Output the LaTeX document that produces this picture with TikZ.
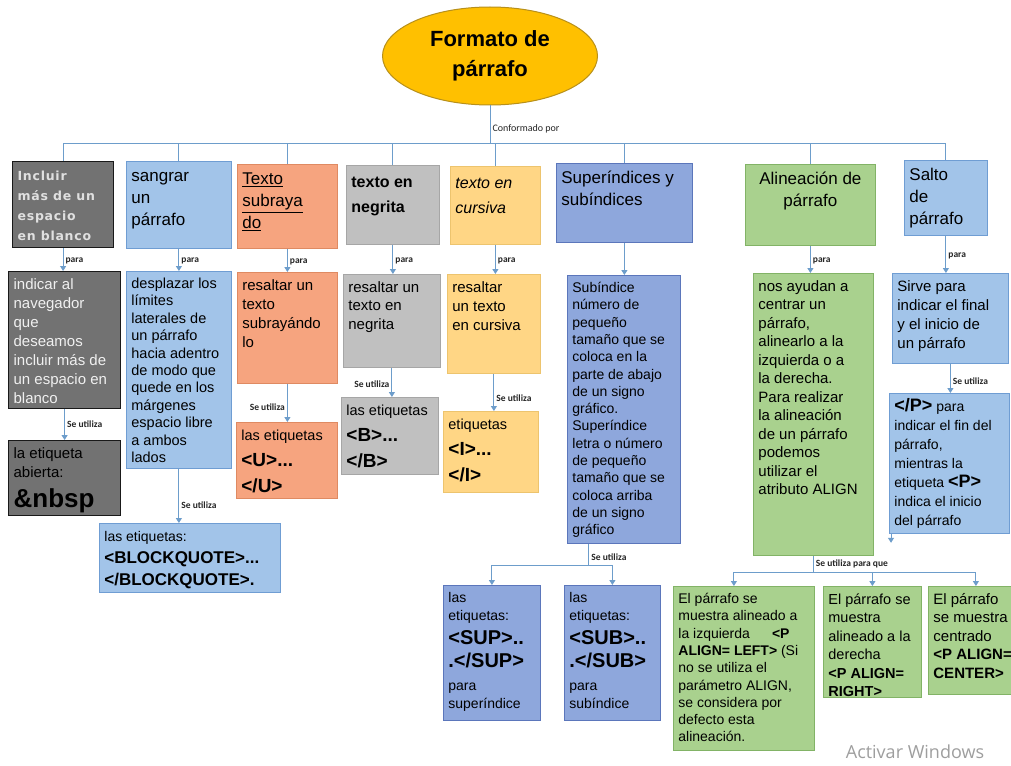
\documentclass[tikz,border=0pt]{standalone}
\usepackage{fontspec}
\setmainfont{Liberation Sans}
\newfontfamily\labelfont{Carlito}
\newfontfamily\spacedfont[LetterSpace=6]{DejaVu Sans}
\newfontfamily\wmfont{Open Sans}
\usetikzlibrary{arrows.meta,shapes.geometric}
\definecolor{gold}{HTML}{FFC000}
\definecolor{goldline}{HTML}{B8901A}
\definecolor{darkfill}{HTML}{727272}
\definecolor{skyfill}{HTML}{A2C4E9}
\definecolor{skyline}{HTML}{6F9DD3}
\definecolor{salmonfill}{HTML}{F6A47F}
\definecolor{salmonline}{HTML}{DF8A62}
\definecolor{silverfill}{HTML}{C0C0C0}
\definecolor{silverline}{HTML}{A6A6A6}
\definecolor{sandfill}{HTML}{FFD685}
\definecolor{sandline}{HTML}{EDC46E}
\definecolor{violetfill}{HTML}{8EA7DC}
\definecolor{violetline}{HTML}{5B76BB}
\definecolor{leaffill}{HTML}{A9D18E}
\definecolor{leafline}{HTML}{82B366}
\definecolor{wire}{HTML}{6D9DCB}
\newcommand{\fsz}[2]{\fontsize{#1}{#2}\selectfont}
% box text: width, height (px), text, top aligned
\newcommand{\cardtext}[3]{\parbox[t][\dimexpr#2pt-10pt\relax][t]{\dimexpr#1pt-10pt\relax}{\raggedright\strut #3}}

\begin{document}
\begin{tikzpicture}[
  x=1pt, y=-1pt,
  card/.style={anchor=north west, inner xsep=5pt, inner ysep=5pt, line width=0.8pt},
  dark/.style={card, draw=black!90, fill=darkfill, line width=1.2pt},
  sky/.style={card, draw=skyline, fill=skyfill},
  salmon/.style={card, draw=salmonline, fill=salmonfill},
  silver/.style={card, draw=silverline, fill=silverfill},
  sand/.style={card, draw=sandline, fill=sandfill},
  violet/.style={card, draw=violetline, fill=violetfill},
  leaf/.style={card, draw=leafline, fill=leaffill},
  title/.style={ellipse, draw=goldline, fill=gold, line width=1pt,
                minimum width=215pt, minimum height=98pt, inner sep=0pt,
                align=center, font=\bfseries\fsz{22}{30}},
  link/.style={draw=wire, line width=1pt},
  arr/.style={link, -{Triangle[length=5pt,width=6pt]}},
  lbl/.style={font=\labelfont\bfseries\fsz{9.5}{11}, text=black!85, inner sep=2pt},
  toplbl/.style={font=\labelfont\fsz{10}{12}, text=black!85, inner sep=2pt}
]
\path[use as bounding box, fill=white] (0,0) rectangle (1011,765);

% ---------------- Title ----------------
\node[title] (fmt) at (490,56) {Formato de\\párrafo};
\coordinate (bus) at (490,143);

% ---------------- First row ----------------
\node[dark, text=black!12, font=\spacedfont\bfseries\fsz{12.5}{20}] (t1) at (12,161)
  {\cardtext{101}{86}{Incluir\\más de un\\espacio\\en blanco}};
\node[sky, font=\fsz{17}{22}] (t2) at (126,161)
  {\cardtext{105}{87}{sangrar\\un\\párrafo}};
\node[salmon, font=\fsz{17}{22}] (t3) at (237,164)
  {\cardtext{100}{84}{\underline{Texto}\\\underline{subraya}\\\underline{do}}};
\node[silver, font=\bfseries\fsz{16}{25}] (t4) at (346,165)
  {\cardtext{93}{79}{texto en\\negrita}};
\node[sand, font=\itshape\fsz{16}{25}] (t5) at (450,166)
  {\cardtext{90}{78}{texto en\\cursiva}};
\node[violet, font=\fsz{17}{22}] (t6) at (556,163)
  {\cardtext{136}{79}{Superíndices y\\subíndices}};
\node[leaf, font=\fsz{17}{22}] (t7) at (745,164)
  {\cardtext{130}{81}{\centering Alineación de\\párrafo}};
\node[sky, font=\fsz{17}{22}] (t8) at (904,160)
  {\cardtext{83}{75}{Salto\\de\\párrafo}};

% ---------------- Second row ----------------
\node[dark, text=white!94!black, font=\fsz{15}{19}] (d1) at (8,271)
  {\cardtext{112}{137}{indicar al\\navegador\\que\\deseamos\\incluir más de\\un espacio en\\blanco}};
\node[sky, font=\fsz{14.5}{17.4}] (d2) at (126,271)
  {\cardtext{105}{197}{desplazar los\\límites\\laterales de\\un párrafo\\hacia adentro\\de modo que\\quede en los\\márgenes\\espacio libre\\a ambos\\lados}};
\node[salmon, font=\fsz{15}{19}] (d3) at (237,272)
  {\cardtext{100}{111}{resaltar un\\texto\\subrayándo\\lo}};
\node[silver, font=\fsz{15}{18.5}] (d4) at (343,274)
  {\cardtext{97}{93}{resaltar un\\texto en\\negrita}};
\node[sand, font=\fsz{15}{19}] (d5) at (447,274)
  {\cardtext{93}{99}{resaltar\\un texto\\en cursiva}};
\node[violet, font=\fsz{14}{17.3}] (d6) at (567,275)
  {\cardtext{113}{268}{Subíndice\\número de\\pequeño\\tamaño que se\\coloca en la\\parte de abajo\\de un signo\\gráfico.\\Superíndice\\letra o número\\de pequeño\\tamaño que se\\coloca arriba\\de un signo\\gráfico}};
\node[leaf, font=\fsz{15}{18.5}] (d7) at (753,273)
  {\cardtext{120}{282}{nos ayudan a\\centrar un\\párrafo,\\alinearlo a la\\izquierda o a\\la derecha.\\Para realizar\\la alineación\\de un párrafo\\podemos\\utilizar el\\atributo ALIGN}};
\node[sky, font=\fsz{15}{19}] (d8) at (892,273)
  {\cardtext{116}{90}{Sirve para\\indicar el final\\y el inicio de\\un párrafo}};

% ---------------- Third row ----------------
\node[dark, text=black, font=\fsz{15}{19}] (e1) at (8,440)
  {\cardtext{112}{75}{la etiqueta\\abierta:\\[11pt]{\bfseries\fsz{26}{26}\&nbsp}}};
\node[sky, font=\fsz{14}{19}] (e2) at (99,523)
  {\cardtext{181}{69}{las etiquetas:\\[3pt]{\bfseries\fsz{17}{22}<BLOCKQUOTE>...}\\[3pt]{\bfseries\fsz{17}{22}</BLOCKQUOTE>.}}};
\node[salmon, font=\fsz{14.5}{19}] (e3) at (236,422)
  {\cardtext{101}{76}{las etiquetas\\[7pt]{\bfseries\fsz{19}{26}<U>...}\\[7pt]{\bfseries\fsz{19}{26}</U>}}};
\node[silver, font=\fsz{14.5}{19}] (e4) at (341,397)
  {\cardtext{97}{77}{las etiquetas\\[7pt]{\bfseries\fsz{19}{26}<B>...}\\[7pt]{\bfseries\fsz{19}{26}</B>}}};
\node[sand, font=\fsz{14.5}{19}] (e5) at (443,411)
  {\cardtext{95}{81}{etiquetas\\[7pt]{\bfseries\fsz{19}{26}<I>...}\\[7pt]{\bfseries\fsz{19}{26}</I>}}};
\node[violet, font=\fsz{14}{17.5}] (sup) at (443,585)
  {\cardtext{97}{135}{las\\etiquetas:\\[7pt]{\bfseries\fsz{20}{23}<SUP>..}\\[5.5pt]{\bfseries\fsz{20}{23}.</SUP>}\\[5.5pt]para\\superíndice}};
\node[violet, font=\fsz{14}{17.5}] (sub) at (564,585)
  {\cardtext{96}{135}{las\\etiquetas:\\[7pt]{\bfseries\fsz{20}{23}<SUB>..}\\[5.5pt]{\bfseries\fsz{20}{23}.</SUB>}\\[5.5pt]para\\subíndice}};
\node[sky, font=\fsz{14}{19}] (e8) at (889,393)
  {\cardtext{120}{140}{{\bfseries\fsz{18}{19}</P>} para\\indicar el fin del\\párrafo,\\mientras la\\etiqueta {\bfseries\fsz{18}{19}<P>}\\indica el inicio\\del párrafo}};
\node[leaf, font=\fsz{14}{17.3}] (g1) at (673,586)
  {\cardtext{141}{164}{El párrafo se\\muestra alineado a\\la izquierda\hspace{22pt}\textbf{<P}\\\textbf{ALIGN=~LEFT>} (Si\\no se utiliza el\\parámetro ALIGN,\\se considera por\\defecto esta\\alineación.}};
\node[leaf, font=\fsz{14.5}{18.5}] (g2) at (823,586)
  {\cardtext{98}{111}{El párrafo se\\muestra\\alineado a la\\derecha\\\textbf{<P~ALIGN=}\\\textbf{RIGHT>}}};
\node[leaf, font=\fsz{15}{18.5}] (g3) at (928,586)
  {\cardtext{95}{108}{El párrafo\\se muestra\\centrado\\\textbf{<P~ALIGN=}\\\textbf{CENTER>}}};

% ---------------- Connectors ----------------
\draw[link] (fmt.south) -- node[toplbl, right, pos=0.62]{Conformado por} (bus);
\draw[link] (t1.north |- bus) -- (t8.north |- bus);
\foreach \n in {t1,t2,t3,t4,t5,t6,t7,t8}
  \draw[link] (\n.north |- bus) -- (\n.north);
\foreach \a/\b in {t1/d1,t2/d2,t3/d3,t4/d4,t5/d5,t7/d7,t8/d8}
  \draw[arr] (\a.south) -- node[lbl, right, pos=0.55]{para} (\a.south |- \b.north);
\draw[arr] (t6.south) -- (t6.south |- d6.north);

\draw[arr] (d1.south) -- node[lbl, right, pos=0.5]{Se utiliza} (d1.south |- e1.north);
\draw[arr] (d2.south) -- node[lbl, right, pos=0.67]{Se utiliza} (d2.south |- e2.north);
\draw[arr] (d3.south) -- node[lbl, left, pos=0.6]{Se utiliza} (d3.south |- e3.north);
\draw[arr] (d4.south) -- node[lbl, left, pos=0.55]{Se utiliza} (d4.south |- e4.north);
\draw[arr] (d5.south) -- node[lbl, right, pos=0.65]{Se utiliza} (d5.south |- e5.north);
\draw[arr] (d8.south) -- node[lbl, right, pos=0.6]{Se utiliza} (d8.south |- e8.north);

\draw[link] ([xshift=-35pt]d6.south) -- node[lbl, right, pos=0.6]{Se utiliza} ++(0,22) coordinate (s6);
\draw[arr] (s6) -| (sup.north);
\draw[arr] (s6) -| (sub.north);

\draw[link] (d7.south) -- node[lbl, right, pos=0.5]{Se utiliza para que} ++(0,17) coordinate (s7);
\draw[arr] (s7) -| ([xshift=-10pt]g1.north);
\draw[arr] (s7) -| (g2.north);
\draw[arr] (s7) -| (g3.north);

\coordinate (e8tail) at ([xshift=2pt,yshift=-9pt]e8.south west);
\draw[arr] ([xshift=2pt]e8.south west) -- (e8tail);

\node[font=\wmfont\fsz{18}{20}, text=black!38] (wm) at (915,752) {Activar Windows};
\end{tikzpicture}
\end{document}
